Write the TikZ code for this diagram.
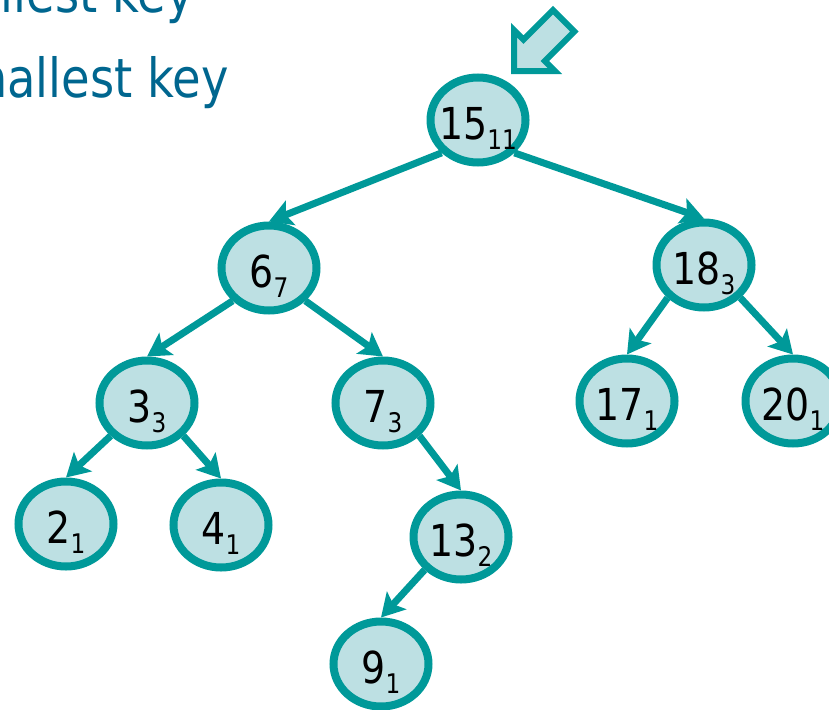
\documentclass[tikz,border=0pt]{standalone}
\usepackage{fontspec}
\setmainfont{DejaVu Sans}[FakeStretch=0.86]
\usetikzlibrary{arrows.meta,shapes.geometric}
\definecolor{TreeTeal}{HTML}{009999}
\definecolor{TreeFill}{HTML}{BDE0E3}
\definecolor{TitleBlue}{HTML}{00668F}
% key with subtree size as subscript
\newcommand{\keysz}[2]{\makebox[0pt]{#1\raisebox{-10pt}{\fontsize{27}{27}\selectfont #2}}}

\begin{document}
\begin{tikzpicture}[x=1pt,y=-1pt,
      treenode/.style={ellipse,draw=TreeTeal,line width=8pt,fill=TreeFill,
        minimum width=95pt,minimum height=85pt,inner sep=0pt,
        text height=39pt,text depth=0pt,font=\fontsize{44}{44}\selectfont},
      edge/.style={-{Stealth[length=23pt,width=26pt,inset=5pt]},line width=7pt,color=TreeTeal},
      pointer/.style={draw=TreeTeal,fill=TreeFill,line width=6pt},
      title/.style={anchor=base east,inner sep=0pt,text=TitleBlue,
        font=\fontsize{54}{54}\selectfont}
    ]
      \useasboundingbox (0,0) rectangle (829,709);
      % heading lines, running off the left edge
      \node[title] (line1) at (194,13) {smallest key};
      \node[title] (line2) at (229,97) {smallest key};
      % the tree
      \node[treenode] (n15) at (478,120) {\keysz{15}{11}};
      \node[treenode] (n6) at (269,268) {\keysz{6}{7}};
      \node[treenode] (n18) at (704,265) {\keysz{18}{3}};
      \node[treenode] (n3) at (147,403) {\keysz{3}{3}};
      \node[treenode] (n7) at (383,403) {\keysz{7}{3}};
      \node[treenode] (n17) at (627,401) {\keysz{17}{1}};
      \node[treenode] (n20) at (793,401) {\keysz{20}{1}};
      \node[treenode] (n2) at (66,524) {\keysz{2}{1}};
      \node[treenode] (n4) at (221,525) {\keysz{4}{1}};
      \node[treenode] (n13) at (461,537) {\keysz{13}{2}};
      \node[treenode] (n9) at (381,664) {\keysz{9}{1}};
      \draw[edge] (n15.south west) -- (n6.north);
      \draw[edge] (n15.south east) -- (n18.north);
      \draw[edge] (n6.south west) -- (n3.north);
      \draw[edge] (n6.south east) -- (n7.north);
      \draw[edge] (n18.south west) -- (n17.north);
      \draw[edge] (n18.south east) -- (n20.north);
      \draw[edge] (n3.south west) -- (n2.north);
      \draw[edge] (n3.south east) -- (n4.north);
      \draw[edge] (n7.south east) -- (n13.north);
      \draw[edge] (n13.south west) -- (n9.north);
      % block arrow pointing at the root
      \draw[pointer] (514,71) -- (514,30.2) -- (523.5,39.7) -- (553,10.2)
        -- (574.3,31.5) -- (544.8,61) -- (554.8,71) -- cycle;
    \end{tikzpicture}
\end{document}
